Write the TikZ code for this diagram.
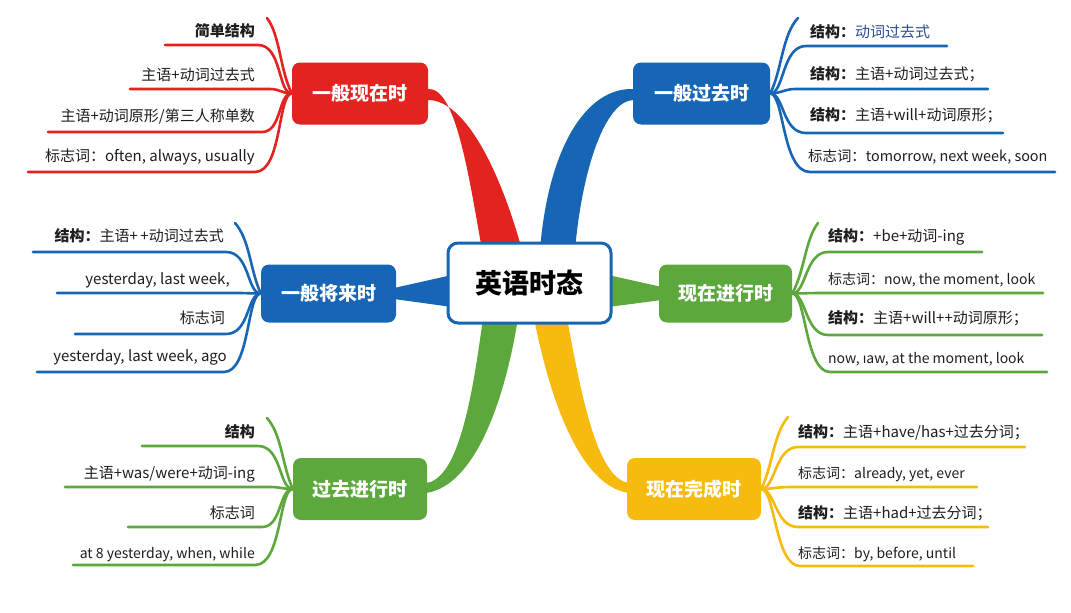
\documentclass[tikz,border=0pt]{standalone}
\usepackage{fontspec}
\setmainfont{Noto Sans CJK SC}
\newfontfamily\latfont{Noto Sans}
\definecolor{cred}{HTML}{E2231F}
\definecolor{cblue}{HTML}{1766B5}
\definecolor{cgreen}{HTML}{5CA83D}
\definecolor{cyel}{HTML}{F6BB0E}
\definecolor{cdblue}{HTML}{2A4F8E}
\definecolor{ctext}{HTML}{1E1E1E}
\begin{document}
\begin{tikzpicture}[x=1pt,y=-1pt,
  mainbox/.style={rounded corners=8pt,inner sep=0pt,text=white,font=\fontsize{19}{21}\selectfont\bfseries},
  leaf/.style={line width=2.6pt,line cap=round},
  lt/.style={inner sep=0pt,text=ctext,font=\fontsize{15}{17}\selectfont},
  lts/.style={inner sep=0pt,text=ctext,font=\fontsize{14}{16}\selectfont}]
\useasboundingbox (0,0) rectangle (1071,613);
\fill[white] (0,0) rectangle (1071,613);
% thick branches
\fill[cred] (428,89) .. controls (455,87) and (468,170) .. (482,250) -- (522,250) .. controls (500,170) and (465,100) .. (428,100) -- cycle;
\fill[cblue] (634,89) .. controls (585,87) and (548,150) .. (540,250) -- (575,250) .. controls (582,170) and (605,100) .. (634,100) -- cycle;
\fill[cblue] (394,288) -- (452,275) -- (452,307) -- (394,299) -- cycle;
\fill[cgreen] (608,275) -- (662,287) -- (662,300) -- (608,307) -- cycle;
\fill[cgreen] (518,318) .. controls (505,400) and (475,486) .. (426,493) -- (426,483) .. controls (458,479) and (472,400) .. (483,318) -- cycle;
\fill[cyel] (534,318) .. controls (550,400) and (580,486) .. (629,493) -- (629,483) .. controls (598,479) and (582,400) .. (567,318) -- cycle;
% main boxes
\node[mainbox,fill=cred,minimum width=136pt,minimum height=62pt] (rp) at (360,93.5) {一般现在时};
\node[mainbox,fill=cblue,minimum width=137pt,minimum height=62pt] (bp) at (701.5,93.5) {一般过去时};
\node[mainbox,fill=cblue,minimum width=135pt,minimum height=58pt] (fp) at (328.5,293.5) {一般将来时};
\node[mainbox,fill=cgreen,minimum width=133pt,minimum height=58pt] (gp) at (725.5,293.5) {现在进行时};
\node[mainbox,fill=cgreen,minimum width=134pt,minimum height=62pt] (pc) at (360,489) {过去进行时};
\node[mainbox,fill=cyel,minimum width=134pt,minimum height=62pt] (pf) at (694,489) {现在完成时};
\node[draw=cblue,line width=3pt,fill=white,rounded corners=10pt,minimum width=163pt,minimum height=80pt,inner sep=0pt,font=\fontsize{27}{30}\selectfont\bfseries,text=black] (c) at (529.5,283) {英语时态};
% red leaves
\begin{scope}[cred,leaf]
\draw (rp.west) .. controls (280,70) and (280,35) .. (267,18);
\draw (rp.west) .. controls +(-14,0) and (282,45) .. (258,45) -- (165,45);
\draw (rp.west) .. controls +(-10,0) and (280,89) .. (270,89) -- (130,89);
\draw (rp.west) .. controls +(-14,0) and (282,132) .. (262,132) -- (48,132);
\draw (rp.west) .. controls +(-14,0) and (282,172) .. (255,172) -- (28,172);
\end{scope}
\node[lt,anchor=base east,font=\fontsize{15}{17}\selectfont\bfseries] (r1) at (255,36) {简单结构};
\node[lt,anchor=base east] (r2) at (255,80) {主语+动词过去式};
\node[lt,anchor=base east] (r3) at (255,121) {主语+动词原形/第三人称单数};
\node[lt,anchor=base east] (r4) at (255,161) {标志词：often, always, usually};
% blue top-right leaves
\begin{scope}[cblue,leaf]
\draw (bp.east) .. controls (782,70) and (782,35) .. (798,18);
\draw (bp.east) .. controls +(14,0) and (782,46) .. (806,46) -- (947,46);
\draw (bp.east) .. controls +(10,0) and (785,89) .. (795,89) -- (988,89);
\draw (bp.east) .. controls +(14,0) and (782,133) .. (806,133) -- (1003,133);
\draw (bp.east) .. controls +(14,0) and (782,172) .. (810,172) -- (1055,172);
\end{scope}
\node[lt,anchor=base west] (b1) at (810,37) {\textbf{结构：}\textcolor{cdblue}{动词过去式}};
\node[lt,anchor=base west] (b2) at (810,79) {\textbf{结构：}主语+动词过去式；};
\node[lt,anchor=base west] (b3) at (810,120) {\textbf{结构：}主语+will+动词原形；};
\node[lt,anchor=base west,font=\fontsize{14.4}{16}\selectfont] (b4) at (808,161) {标志词：tomorrow, next week, soon};
% blue left leaves
\begin{scope}[cblue,leaf]
\draw (fp.west) .. controls (250,270) and (250,240) .. (235,223);
\draw (fp.west) .. controls +(-14,0) and (250,252) .. (226,252) -- (33,252);
\draw (fp.west) .. controls +(-10,0) and (245,293) .. (240,293) -- (57,293);
\draw (fp.west) .. controls +(-14,0) and (250,334) .. (226,334) -- (75,334);
\draw (fp.west) .. controls +(-14,0) and (250,372) .. (224,372) -- (37,372);
\end{scope}
\node[lt,anchor=base east] (f1) at (224,241) {\textbf{结构：}主语+\,+动词过去式};
\node[lt,anchor=base east] (f2) at (230,284) {yesterday, last week,};
\node[lt,anchor=base east] (f3) at (225,323) {标志词};
\node[lt,anchor=base east] (f4) at (227,361) {yesterday, last week, ago};
% green right leaves
\begin{scope}[cgreen,leaf]
\draw (gp.east) .. controls (805,270) and (805,240) .. (818,223);
\draw (gp.east) .. controls +(14,0) and (805,252) .. (828,252) -- (982,252);
\draw (gp.east) .. controls +(10,0) and (810,293) .. (820,293) -- (1043,293);
\draw (gp.east) .. controls +(14,0) and (805,335) .. (828,335) -- (1042,335);
\draw (gp.east) .. controls +(14,0) and (805,372) .. (830,372) -- (1047,372);
\end{scope}
\node[lt,anchor=base west] (g1) at (828,241) {\textbf{结构：}+be+动词-ing};
\node[lts,anchor=base west] (g2) at (828,284) {标志词：now, the moment, look};
\node[lt,anchor=base west] (g3) at (828,323) {\textbf{结构：}主语+will++动词原形；};
\node[lts,anchor=base west] (g4) at (828,363) {now, {\latfont ı}aw, at the moment, look};
% green left leaves
\begin{scope}[cgreen,leaf]
\draw (pc.west) .. controls (282,465) and (282,435) .. (267,418);
\draw (pc.west) .. controls +(-14,0) and (282,446) .. (258,446) -- (142,446);
\draw (pc.west) .. controls +(-10,0) and (280,487) .. (270,487) -- (65,487);
\draw (pc.west) .. controls +(-14,0) and (282,527) .. (262,527) -- (128,527);
\draw (pc.west) .. controls +(-14,0) and (282,565) .. (255,565) -- (73,565);
\end{scope}
\node[lt,anchor=base east,font=\fontsize{15}{17}\selectfont\bfseries] (p1) at (255,437) {结构};
\node[lt,anchor=base east] (p2) at (255,478) {主语+was/were+动词-ing};
\node[lt,anchor=base east] (p3) at (255,518) {标志词};
\node[lts,anchor=base east] (p4) at (255,558) {at 8 yesterday, when, while};
% yellow leaves
\begin{scope}[cyel,leaf]
\draw (pf.east) .. controls (773,465) and (773,435) .. (788,417);
\draw (pf.east) .. controls +(14,0) and (775,447) .. (798,447) -- (1025,447);
\draw (pf.east) .. controls +(10,0) and (778,487) .. (790,487) -- (977,487);
\draw (pf.east) .. controls +(14,0) and (775,527) .. (798,527) -- (988,527);
\draw (pf.east) .. controls +(14,0) and (775,566) .. (800,566) -- (973,566);
\end{scope}
\node[lt,anchor=base west] (y1) at (798,437) {\textbf{结构：}主语+have/has+过去分词；};
\node[lts,anchor=base west] (y2) at (798,478) {标志词：already, yet, ever};
\node[lt,anchor=base west] (y3) at (798,518) {\textbf{结构：}主语+had+过去分词；};
\node[lts,anchor=base west] (y4) at (798,558) {标志词：by, before, until};
\end{tikzpicture}
\end{document}
